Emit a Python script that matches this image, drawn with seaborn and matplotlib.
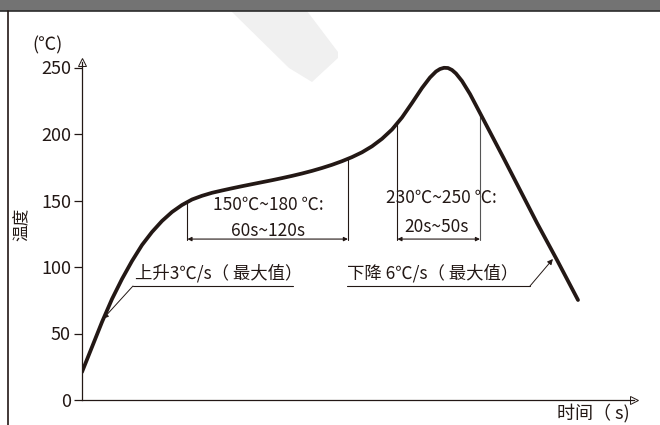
import matplotlib
matplotlib.use("Agg")
import matplotlib.pyplot as plt
import seaborn as sns
import pandas as pd
from matplotlib.patches import Rectangle, Polygon

# === Data ===
time_s = [0, 5.42, 10.83, 16.25, 21.66, 27.08, 32.49, 37.91, 43.32, 48.74, 54.15,
          59.57, 64.98, 70.40, 75.81, 81.23, 86.64, 92.06, 97.47, 102.89, 108.30,
          113.72, 119.13, 124.55, 129.96, 135.38, 140.79, 146.21, 151.62, 157.04,
          162.45, 167.87, 173.28, 178.70, 184.11, 188.44, 191.69, 193.86, 196.02,
          198.19, 200.36, 202.52, 205.77, 210.10, 215.52, 228.0, 246.39, 257.22, 268.59]
temp_c = [21.05, 39.85, 58.65, 75.94, 90.98, 104.51, 116.54, 126.32, 134.59, 141.35, 146.62,
          150.75, 153.53, 155.79, 157.52, 159.17, 160.75, 162.26, 163.76, 165.26, 166.84,
          168.50, 170.30, 172.26, 174.44, 176.84, 179.55, 182.63, 186.24, 190.75,
          196.39, 203.38, 212.41, 223.31, 234.59, 242.48, 246.99, 248.87, 249.77,
          249.62, 248.12, 245.49, 239.85, 230.08, 215.79, 182.71, 133.08, 105.26, 75.19]
y_ticks = [0, 50, 100, 150, 200, 250]

soak_window = [57.1, 144.0]        # time span of 150~180 C
soak_top = [149.0, 181.4]
reflow_window = [170.8, 215.5]     # time span of 230~250 C
reflow_top = [208.0, 215.8]
bracket_temp = 121

ramp_up_label = "上升3℃/s（ 最大值）"
ramp_down_label = "下降 6℃/s（ 最大值）"
soak_labels = ["150℃~180 ℃:", "60s~120s"]
reflow_labels = ["230℃~250 ℃:", "20s~50s"]

W, H = 660, 425
INK = "#231815"

sns.set_theme(style="white")
plt.rcParams["font.family"] = ["Noto Sans CJK SC", "DejaVu Sans"]

fig = plt.figure(figsize=(W / 100, H / 100), dpi=100)


def px(x, y):
    """pixel (from top-left) -> figure fraction"""
    return x / W, 1 - y / H


# header bar, side border and faint watermark
fig.patches.append(Rectangle((0, 1 - 10.5 / H), 1, 10.5 / H, transform=fig.transFigure,
                             facecolor="#737373", edgecolor="none", zorder=0))
fig.lines.append(plt.Line2D([0, 1], [1 - 10.5 / H] * 2, transform=fig.transFigure,
                            color="#2b2b2b", lw=1.2))
fig.lines.append(plt.Line2D([7.5 / W] * 2, [0, 1 - 10.5 / H], transform=fig.transFigure,
                            color=INK, lw=1.2))
wm = [px(231, 11), px(307, 11), px(338, 52), px(338, 58), px(312, 82), px(289, 68)]
fig.patches.append(Polygon(wm, closed=True, transform=fig.transFigure,
                           facecolor="#f0f0f0", edgecolor="none", zorder=0))

left, right, top, bottom = 82, 634, 62, 400
ax = fig.add_axes([left / W, 1 - bottom / H, (right - left) / W, (bottom - top) / H])
ax.patch.set_alpha(0)

xmax = (right - left) / 1.8467
ymax = (bottom - top) / 1.33
ax.set_xlim(0, xmax)
ax.set_ylim(0, ymax)

df = pd.DataFrame({"time": time_s, "temp": temp_c})
sns.lineplot(data=df, x="time", y="temp", ax=ax, color=INK, lw=2.7, zorder=5)
ax.lines[-1].set_solid_joinstyle("round")

# spines / ticks
for side in ["top", "right"]:
    ax.spines[side].set_visible(False)
for side in ["left", "bottom"]:
    ax.spines[side].set_color(INK)
    ax.spines[side].set_linewidth(0.9)
ax.set_xticks([])
ax.set_yticks(y_ticks)
ax.set_yticklabels([str(v) for v in y_ticks], fontsize=13, color=INK)
ax.tick_params(axis="y", left=True, length=6, width=0.9, color=INK, pad=2)
ax.set_xlabel("")
ax.set_ylabel("")

# open arrow heads at axis ends
ax.plot([0], [ymax], marker="^", ms=6, mfc="white", mec=INK, mew=0.7, clip_on=False)
ax.plot([xmax], [0], marker=">", ms=6, mfc="white", mec=INK, mew=0.7, clip_on=False)

# soak and reflow windows
for (x0, x1), (t0, t1), col in [(soak_window, soak_top, INK), (reflow_window, reflow_top, "#555555")]:
    ax.plot([x0, x0], [bracket_temp - 1, t0], color=INK, lw=0.8)
    ax.plot([x1, x1], [bracket_temp - 1, t1], color=col, lw=0.8)
    ax.annotate("", xy=(x0, bracket_temp), xytext=(x1, bracket_temp),
                arrowprops=dict(arrowstyle="<|-|>", color=INK, lw=0.8,
                                mutation_scale=6, shrinkA=0, shrinkB=0))

ax.text(100.7, 146.6, soak_labels[0], ha="center", va="center", fontsize=12.5, color=INK)
ax.text(100.7, 127, soak_labels[1], ha="center", va="center", fontsize=12.5, color=INK)
ax.text(194.4, 151.9, reflow_labels[0], ha="center", va="center", fontsize=12.5, color=INK)
ax.text(192.2, 130, reflow_labels[1], ha="center", va="center", fontsize=12.5, color=INK)

# ramp call-outs
ax.text(28.7, 95.5, ramp_up_label, ha="left", va="center", fontsize=12.5, color=INK)
ax.plot([27.6, 114.3], [85.7, 85.7], color=INK, lw=0.8)
ax.annotate("", xy=(11.4, 61.0), xytext=(27.6, 85.7),
            arrowprops=dict(arrowstyle="-|>", color=INK, lw=0.7,
                            mutation_scale=8, shrinkA=0, shrinkB=0))

ax.text(143.5, 95.5, ramp_down_label, ha="left", va="center", fontsize=12.5, color=INK)
ax.plot([143.5, 242.6], [85.7, 85.7], color=INK, lw=0.8)
ax.annotate("", xy=(255.0, 106.0), xytext=(242.6, 85.7),
            arrowprops=dict(arrowstyle="-|>", color=INK, lw=0.7,
                            mutation_scale=8, shrinkA=0, shrinkB=0))

# axis captions
fig.text(*px(47, 45), "(℃)", ha="center", va="center", fontsize=13, color=INK)
fig.text(*px(22, 224), "温度", ha="center", va="center", rotation=90, fontsize=12, color=INK)
fig.text(*px(593, 413), "时间（ s)", ha="center", va="center", fontsize=13, color=INK)

fig.savefig("out.png", dpi=100)
